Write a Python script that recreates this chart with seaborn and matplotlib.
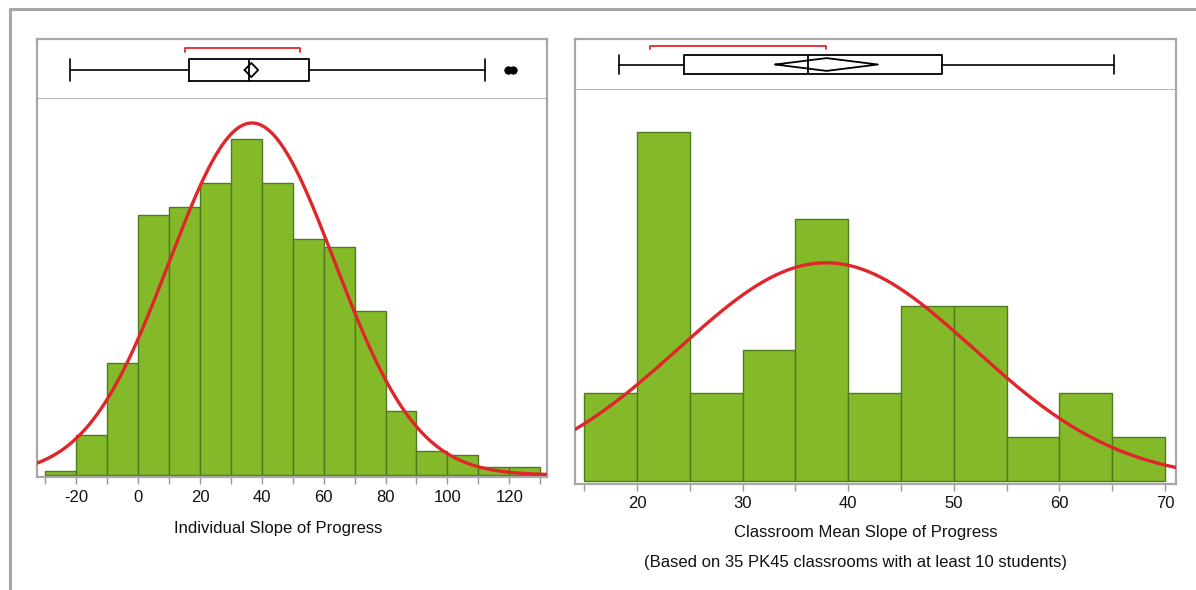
import numpy as np
import pandas as pd
import seaborn as sns
import matplotlib
matplotlib.use("Agg")
import matplotlib.pyplot as plt
from matplotlib.lines import Line2D

# ---------------- data ----------------
# Left: individual slopes (bin width 10)
left_edges = list(range(-30, 140, 10))
left_counts = [1, 10, 28, 65, 67, 73, 84, 73, 59, 57, 41, 16, 6, 5, 2, 2]
left_mean, left_sd = 36.8, 26.7
left_box = dict(whislo=-22.0, q1=16.6, med=35.9, q3=55.3, whishi=112.3)
left_fliers = [119.6, 121.2]
left_mean_ci = (34.4, 38.8)
left_short_half = (15.0, 52.4)
left_ticks = [-20, 0, 20, 40, 60, 80, 100, 120]

# Right: classroom means (bin width 5)
right_edges = list(range(15, 75, 5))
right_counts = [2, 8, 2, 3, 6, 2, 4, 4, 1, 2, 1]
right_mean, right_sd = 37.9, 13.96
right_box = dict(whislo=18.3, q1=24.45, med=36.2, q3=48.9, whishi=65.2)
right_fliers = []
right_mean_ci = (33.1, 42.8)
right_short_half = (21.2, 37.9)
right_ticks = [20, 30, 40, 50, 60, 70]

left_label = "Individual Slope of Progress"
right_label = "Classroom Mean Slope of Progress"
right_note = "(Based on 35 PK45 classrooms with at least 10 students)"

# ---------------- style ----------------
sns.set_theme(style="white")
plt.rcParams['font.family'] = ['Liberation Sans', 'DejaVu Sans']

GREEN = "#84BA29"
GREEN_EDGE = "#4F7A1F"
RED = "#E0262B"
FRAME = "#A8A8A8"
SEP = "#ABABAB"
FS = 12

W, H = 1196, 590
fig = plt.figure(figsize=(W / 100, H / 100), dpi=100)


def fx(px):
    return px / W


def fy(py):
    return 1 - py / H


def make_panel(x0, x1, ytop, ysep, ybot, xlim, ylim, edges, counts, mean, sd,
               box, fliers, ci, short_half, box_frac, diamond_frac, bracket_y,
               major_ticks, minor_ticks):
    ax_box = fig.add_axes([fx(x0), fy(ysep), fx(x1 - x0), (ysep - ytop) / H])
    ax_h = fig.add_axes([fx(x0), fy(ybot), fx(x1 - x0), (ybot - ysep) / H])

    # histogram through seaborn
    edge_arr = np.array(edges, dtype=float)
    centers = (edge_arr[:-1] + edge_arr[1:]) / 2
    df = pd.DataFrame({"x": centers, "w": counts})
    sns.histplot(data=df, x="x", weights="w", bins=list(edges), ax=ax_h,
                 color=GREEN, edgecolor=GREEN_EDGE, linewidth=1.0, alpha=1.0)

    # fitted normal curve
    bw = edge_arr[1] - edge_arr[0]
    n = sum(counts)
    xs = np.linspace(xlim[0], xlim[1], 400)
    ys = n * bw / (sd * np.sqrt(2 * np.pi)) * np.exp(-0.5 * ((xs - mean) / sd) ** 2)
    ax_h.plot(xs, ys, color=RED, lw=2.4, clip_on=True, zorder=5)

    ax_h.set_xlim(*xlim)
    ax_h.set_ylim(*ylim)
    ax_h.set_yticks([])
    ax_h.set_ylabel("")
    ax_h.set_xlabel("")
    ax_h.set_xticks(major_ticks)
    ax_h.set_xticklabels([str(t) for t in major_ticks])
    ax_h.set_xticks(minor_ticks, minor=True)
    ax_h.tick_params(axis='x', which='both', bottom=True, length=5, width=1,
                     color="#9a9a9a", labelsize=FS, pad=4, labelcolor="#111111")
    for s in ["left", "right", "bottom"]:
        ax_h.spines[s].set_color(FRAME)
        ax_h.spines[s].set_linewidth(1.6)
        ax_h.spines[s].set_visible(True)
    ax_h.spines["top"].set_visible(False)

    # box plot panel
    ax_box.set_xlim(*xlim)
    ax_box.set_ylim(0, 1)
    stats = dict(box)
    stats["fliers"] = fliers
    ax_box.bxp([stats], positions=[box_frac[0]], widths=box_frac[1],
               vert=False, showfliers=True, manage_ticks=False,
               capwidths=box_frac[1] * 0.97,
               boxprops=dict(color="black", lw=1.3),
               whiskerprops=dict(color="black", lw=1.2),
               capprops=dict(color="black", lw=1.2),
               medianprops=dict(color="black", lw=1.3),
               flierprops=dict(marker='o', markerfacecolor='black',
                               markeredgecolor='black', markersize=5))
    # mean diamond
    cy = box_frac[0]
    hh = box_frac[1] * diamond_frac / 2
    m = (ci[0] + ci[1]) / 2
    ax_box.plot([ci[0], m, ci[1], m, ci[0]], [cy, cy + hh, cy, cy - hh, cy],
                color="black", lw=1.3, zorder=6)
    # shortest half bracket
    ax_box.plot([short_half[0], short_half[0], short_half[1], short_half[1]],
                [bracket_y - 0.06, bracket_y, bracket_y, bracket_y - 0.06],
                color=RED, lw=1.3)
    ax_box.set_xticks([])
    ax_box.set_yticks([])
    for s in ["left", "right", "top"]:
        ax_box.spines[s].set_color(FRAME)
        ax_box.spines[s].set_linewidth(1.6)
        ax_box.spines[s].set_visible(True)
    ax_box.spines["bottom"].set_color(SEP)
    ax_box.spines["bottom"].set_linewidth(1.2)
    ax_box.spines["bottom"].set_visible(True)
    return ax_box, ax_h


make_panel(37, 547, 39, 99, 477, (-32.7, 132.2), (-0.5, 94.0),
           left_edges, left_counts, left_mean, left_sd,
           left_box, left_fliers, left_mean_ci, left_short_half,
           (0.483, 0.38), 0.62, 0.845,
           left_ticks, list(range(-30, 140, 10)))

make_panel(575, 1176, 39, 90, 484, (14.13, 71.04), (-0.08, 8.97),
           right_edges, right_counts, right_mean, right_sd,
           right_box, right_fliers, right_mean_ci, right_short_half,
           (0.5, 0.38), 0.66, 0.863,
           right_ticks, list(range(15, 75, 5)))

# axis titles
fig.text(fx(278), fy(529), left_label, ha="center", va="center",
         fontsize=FS, color="#111111")
fig.text(fx(866), fy(532), right_label, ha="center", va="center",
         fontsize=FS, color="#111111")
fig.text(fx(856), fy(563), right_note, ha="center", va="center",
         fontsize=FS, color="#111111")

# outer frame
fig.add_artist(Line2D([fx(10), 1.0], [fy(9), fy(9)], color="#A6A6A6", lw=2.2))
fig.add_artist(Line2D([fx(10), fx(10)], [0, fy(9)], color="#A6A6A6", lw=2.2))

fig.savefig("out.png", dpi=100)
